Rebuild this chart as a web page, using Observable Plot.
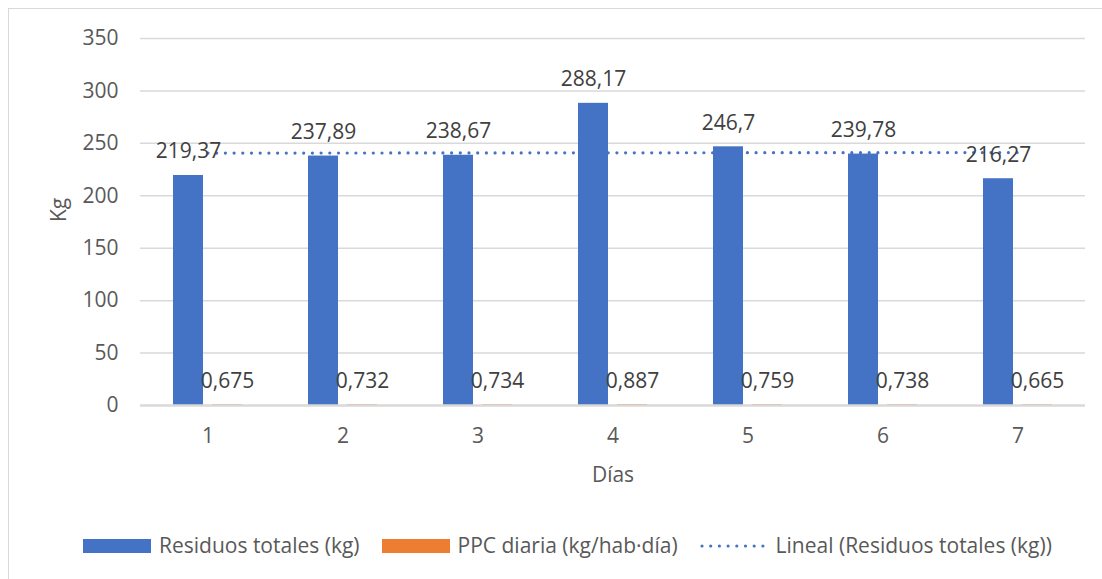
<!DOCTYPE html>
<html>
<head>
<meta charset="utf-8">
<script src="https://cdn.jsdelivr.net/npm/d3@7"></script>
<script src="https://cdn.jsdelivr.net/npm/@observablehq/plot@0.6"></script>
<style>
  html, body { margin: 0; padding: 0; background: #fff; }
  #wrap { position: relative; width: 1102px; height: 579px; overflow: hidden; background: #fff; font-family: "Open Sans", sans-serif; }
  #frame { position: absolute; left: 8px; top: 8px; width: 1200px; height: 700px; border-left: 1.5px solid #d9d9d9; border-top: 1.5px solid #d9d9d9; box-sizing: border-box; pointer-events: none; }
  #chart { position: absolute; left: 0; top: 0; }
  #legend { position: absolute; left: 83px; top: 539px; height: 14px; display: flex; align-items: center; font-size: 21px; color: #595959; white-space: nowrap; }
  .item { display: flex; align-items: center; margin-right: 22px; height: 14px; }
  .sw { width: 68px; height: 14px; margin-right: 8px; }
  .lbl { line-height: 14px; position: relative; top: -1px; }
</style>
</head>
<body>
<div id="wrap">
  <div id="chart"></div>
  <div id="frame"></div>
  <div id="legend"></div>
</div>
<script>
// ---- data ----
const days = ["1", "2", "3", "4", "5", "6", "7"];
const residuos = [219.37, 237.89, 238.67, 288.17, 246.7, 239.78, 216.27];
const ppc = [0.675, 0.732, 0.734, 0.887, 0.759, 0.738, 0.665];
const yTicks = [0, 50, 100, 150, 200, 250, 300, 350];
const seriesNames = ["Residuos totales (kg)", "PPC diaria (kg/hab·día)", "Lineal (Residuos totales (kg))"];
const colors = ["#4472C4", "#ED7D31", "#4472C4"];

// ---- derived table ----
const rows = days.map((d, i) => ({day: d, residuos: residuos[i], ppc: ppc[i]}));

// linear trendline of "Residuos totales" (least squares on day index)
const xs = days.map(Number);
const mx = d3.mean(xs), my = d3.mean(residuos);
const slope = d3.sum(xs, (x, i) => (x - mx) * (residuos[i] - my)) / d3.sum(xs, x => (x - mx) ** 2);
const trend = days.map((d, i) => ({day: d, value: my + slope * (xs[i] - mx)}));

const fmt = v => String(v).replace(".", ",");

const chart = Plot.plot({
  width: 1102,
  height: 510,
  marginLeft: 140,
  marginRight: 17,
  marginTop: 38,
  marginBottom: 105,
  style: {fontFamily: "Open Sans", fontSize: "21px", color: "#595959", background: "transparent"},
  x: {type: "band", domain: days, paddingInner: 0, paddingOuter: 0},
  y: {domain: [0, 350]},
  marks: [
    Plot.ruleY(yTicks.slice(1), {stroke: "#d9d9d9", strokeWidth: 1.5}),
    Plot.barY(rows, {x: "day", y: "residuos", fill: colors[0], insetLeft: 33, insetRight: 72}),
    Plot.barY(rows, {x: "day", y: "ppc", fill: colors[1], insetLeft: 72, insetRight: 33}),
    Plot.ruleY([0], {stroke: "#d9d9d9", strokeWidth: 2.4}),
    Plot.lineY(trend, {x: "day", y: "value", stroke: colors[2], strokeWidth: 3.2, strokeDasharray: "0 8.7", strokeLinecap: "round"}),
    Plot.text(rows, {x: "day", y: "residuos", text: d => fmt(d.residuos), dx: -19.5, dy: -17, lineAnchor: "bottom", fontSize: 21, fill: "#404040"}),
    Plot.text(rows, {x: "day", y: "ppc", text: d => fmt(d.ppc), dx: 19.5, dy: -17, lineAnchor: "bottom", fontSize: 21, fill: "#404040"}),
    Plot.axisY(yTicks, {tickSize: 0, tickPadding: 22, label: null, fontSize: 21, fill: "#595959"}),
    Plot.axisX({tickSize: 0, tickPadding: 23, label: null, fontSize: 21, fill: "#595959"}),
    Plot.text(["Kg"], {frameAnchor: "left", dx: -81, rotate: -90, fontSize: 21, fill: "#595959"}),
    Plot.text(["Días"], {frameAnchor: "bottom", dy: 76, fontSize: 21, fill: "#595959"})
  ]
});
document.getElementById("chart").appendChild(chart);

// ---- legend ----
const legend = document.getElementById("legend");
seriesNames.forEach((name, i) => {
  const item = document.createElement("div");
  item.className = "item";
  let sw;
  if (i < 2) {
    sw = document.createElement("div");
    sw.className = "sw";
    sw.style.background = colors[i];
  } else {
    sw = document.createElementNS("http://www.w3.org/2000/svg", "svg");
    sw.setAttribute("class", "sw");
    sw.setAttribute("width", 68);
    sw.setAttribute("height", 14);
    const ln = document.createElementNS("http://www.w3.org/2000/svg", "line");
    ln.setAttribute("x1", 2); ln.setAttribute("x2", 66);
    ln.setAttribute("y1", 7); ln.setAttribute("y2", 7);
    ln.setAttribute("stroke", colors[i]);
    ln.setAttribute("stroke-width", 3.2);
    ln.setAttribute("stroke-dasharray", "0 8.7");
    ln.setAttribute("stroke-linecap", "round");
    sw.appendChild(ln);
  }
  const lbl = document.createElement("span");
  lbl.className = "lbl";
  lbl.textContent = name;
  item.appendChild(sw);
  item.appendChild(lbl);
  legend.appendChild(item);
});
</script>
</body>
</html>
